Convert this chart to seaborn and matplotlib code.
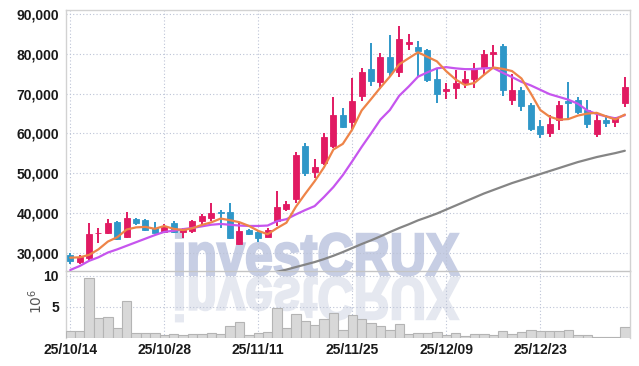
import numpy as np
import pandas as pd
import matplotlib
matplotlib.use("Agg")
import matplotlib.pyplot as plt
import seaborn as sns
from matplotlib.textpath import TextPath
from matplotlib.patches import PathPatch
from matplotlib.font_manager import FontProperties
from matplotlib.transforms import Affine2D, IdentityTransform
from matplotlib.ticker import FuncFormatter

# ---------------- data ----------------
dates = [d for d in pd.bdate_range("2025-10-14", "2026-01-08")
         if d.strftime("%Y-%m-%d") not in ("2025-12-25", "2025-12-31", "2026-01-01")]
date_labels = [d.strftime("%y/%m/%d") for d in dates]
tick_labels = ["25/10/14", "25/10/28", "25/11/11", "25/11/25", "25/12/09", "25/12/23"]

opens = [29300, 27500, 28600, 34800, 34900, 37800, 33900, 38400, 38200, 36300,
         35100, 37500, 35200, 35500, 37900, 38600, 40200, 40100, 32100, 35800,
         35100, 34000, 38000, 41000, 43500, 56800, 50400, 52600, 56900, 64600,
         63000, 69500, 76200, 73000, 79200, 75500, 82600, 81800, 81000, 73700,
         70700, 71500, 72800, 73600, 76800, 79900, 82000, 68400, 70900, 67200,
         61900, 60000, 63400, 68200, 68400, 66000, 59900, 63400, 62900, 67600]
closes = [27800, 28900, 34700, 35000, 37400, 33300, 38600, 37400, 35600, 35000,
          36800, 35100, 35800, 37900, 39200, 40000, 39900, 33700, 35400, 34600,
          33700, 35700, 41400, 42200, 54600, 50100, 51500, 59000, 64600, 61700,
          68200, 75400, 73300, 79200, 75500, 83700, 83000, 80800, 73500, 69900,
          71200, 72600, 73700, 76200, 80000, 80600, 70900, 70900, 66900, 61100,
          59800, 62400, 67200, 67600, 65500, 62300, 63400, 62700, 63800, 71600]
highs = [29900, 29400, 37400, 36200, 38400, 37900, 40100, 38600, 38400, 37600,
         37300, 37900, 36300, 38300, 39700, 42400, 40700, 42400, 37800, 36000,
         35600, 36200, 45600, 43100, 55400, 57600, 53500, 60200, 69200, 66500,
         73900, 76400, 82700, 80200, 84800, 87000, 85000, 83300, 81300, 76400,
         72600, 76000, 75800, 77700, 81000, 82300, 82500, 75100, 71800, 67600,
         63400, 64600, 68200, 73000, 69100, 68400, 64600, 64600, 64200, 74100]
lows = [27200, 27200, 28100, 32300, 34600, 33100, 33600, 36900, 35400, 34800,
        34900, 34800, 33600, 34900, 37000, 37900, 36100, 33400, 31900, 34400,
        32700, 33800, 36700, 40400, 42500, 49300, 48700, 52000, 56300, 61400,
        61100, 68200, 71900, 71100, 74300, 74100, 81000, 74300, 73000, 67600,
        68800, 68800, 71400, 71400, 75100, 76800, 69500, 67200, 65700, 60700,
        58800, 59000, 60900, 63400, 64900, 61300, 59200, 61500, 61600, 66600]
volume_m = [1.06, 1.06, 9.6, 3.1, 3.3, 1.5, 5.9, 0.68, 0.68, 0.68,
            0.35, 0.52, 0.35, 0.52, 0.52, 0.73, 0.57, 1.8, 2.5, 0.35,
            0.73, 0.9, 4.85, 1.5, 3.8, 2.6, 2.1, 3.0, 3.9, 1.2,
            3.65, 2.95, 2.3, 1.85, 1.2, 2.15, 0.57, 0.68, 0.68, 0.9,
            0.4, 0.68, 0.24, 0.52, 0.52, 0.45, 1.0, 0.52, 0.84, 1.17,
            1.0, 1.0, 1.0, 1.17, 0.4, 0.35, 0.13, 0.13, 0.13, 1.65]
ma5 = [28700, 28800, 29400, 30800, 32760, 33860, 35800, 36340, 36460, 35980,
       36680, 35980, 35660, 36120, 36960, 37600, 38560, 38140, 37640, 36720,
       35460, 34620, 36160, 37520, 41520, 44800, 47960, 51480, 55960, 57380,
       61000, 65780, 68640, 71560, 74320, 77420, 78940, 80440, 79300, 78180,
       75680, 73600, 72180, 72720, 74740, 76620, 76280, 75720, 73860, 70080,
       65920, 64220, 63480, 63620, 64500, 65000, 65200, 64300, 63540, 64760]
ma20 = [25600, 26600, 27900, 28800, 30000, 30800, 31700, 32600, 33500, 34400,
        35200, 35500, 35900, 36200, 36600, 37000, 37200, 37000, 36800, 36700,
        36700, 36800, 37900, 38400, 39600, 40700, 41700, 44000, 46500, 49500,
        53000, 56600, 60000, 63500, 65900, 69500, 71800, 74300, 75400, 76400,
        76700, 76400, 76200, 76200, 76400, 76500, 75300, 74200, 73000, 72100,
        71000, 69900, 69200, 68500, 67500, 65800, 64900, 64300, 63800, 64600]
ma_long = [np.nan] * 21 + [
    24600, 25150, 25700, 26340, 26970, 27600, 28350, 29190, 30120, 31130,
    32140, 33070, 34080, 35160, 36170, 37100, 38110, 38940, 39820, 40830,
    41840, 42850, 43850, 44860, 45740, 46620, 47500, 48260, 49010, 49770,
    50530, 51280, 52040, 52790, 53420, 54050, 54560, 55060, 55640]

# ---------------- styling ----------------
UP = "#e11a62"
DOWN = "#2f97c8"
GRID = "#bcc3d6"
SPINE = "#d2d2d2"

sns.set_theme(style="white")
plt.rcParams["font.family"] = ["Liberation Sans", "DejaVu Sans"]

df = pd.DataFrame({"idx": np.arange(len(dates)), "date": date_labels,
                   "open": opens, "close": closes, "high": highs, "low": lows,
                   "vol": volume_m, "ma5": ma5, "ma20": ma20, "malong": ma_long})

W, H = 639, 366
fig = plt.figure(figsize=(W / 100, H / 100), dpi=100)
fig.patch.set_facecolor("white")

ax = fig.add_axes([66 / W, (H - 271) / H, 564 / W, 261 / H])
ax2 = fig.add_axes([66 / W, (H - 337.5) / H, 564 / W, 66.5 / H], sharex=ax)
for a in (ax, ax2):
    a.set_facecolor("none")

# candles
up = df["close"] >= df["open"]
colors = np.where(up, UP, DOWN)
body_lo = np.minimum(df["open"], df["close"])
body_h = np.maximum(np.abs(df["close"] - df["open"]), 200)
ax.vlines(df["idx"], df["low"], df["high"], colors=colors, lw=1.4, zorder=3)
ax.bar(df["idx"], body_h, bottom=body_lo, width=0.64, color=colors,
       edgecolor=colors, linewidth=0.6, zorder=4)

# moving averages
sns.lineplot(data=df, x="idx", y="malong", ax=ax, color="#858585", lw=1.6, zorder=5)
sns.lineplot(data=df, x="idx", y="ma20", ax=ax, color="#c655ee", lw=1.6, zorder=6)
sns.lineplot(data=df, x="idx", y="ma5", ax=ax, color="#ee8448", lw=1.6, zorder=7)

# volume
ax2.bar(df["idx"], df["vol"], width=1.0, color="#d8d8d8", edgecolor="#b4b4b4",
        linewidth=0.8, zorder=3)

# axes limits / ticks
tick_pos = [date_labels.index(t) for t in tick_labels]
ax.set_xlim(-0.45, 59.55)
ax.set_ylim(25350, 91100)
ax.set_yticks(range(30000, 90001, 10000))
ax.yaxis.set_major_formatter(FuncFormatter(lambda v, p: f"{int(v):,}"))
ax2.set_ylim(0, 10.8)
ax2.set_yticks([5, 10])
ax2.set_xticks(tick_pos)
ax2.set_xticklabels(tick_labels)
ax.tick_params(axis="x", labelbottom=False, length=0)

for a in (ax, ax2):
    a.set_xlabel("")
    a.set_ylabel("")
    a.grid(True, color=GRID, linestyle=(0, (1, 2)), linewidth=0.8)
    a.set_axisbelow(True)
    a.tick_params(axis="y", length=0, pad=5, labelsize=10, colors="#1a1a1a")
    for s in a.spines.values():
        s.set_color(SPINE)
        s.set_linewidth(1.0)
ax2.tick_params(axis="x", length=0, pad=4, labelsize=10, colors="#1a1a1a")
for lab in ax.get_yticklabels() + ax2.get_yticklabels() + ax2.get_xticklabels():
    lab.set_fontweight("bold")
ax.spines["bottom"].set_color("#c4c4c4")
ax2.spines["top"].set_visible(False)
ax2.spines["bottom"].set_visible(False)

ax2.set_ylabel("10$^6$", fontsize=10, color="#555555", rotation=90,
               fontfamily="DejaVu Sans")
ax2.yaxis.set_label_coords(-0.037, 0.55)

# watermark "investCRUX" with reflection
fp = FontProperties(family="Liberation Sans", weight="bold")
tp = TextPath((0, 0), "investCRUX", size=100, prop=fp)
ext = tp.get_extents()
sx = 283 / ext.width
sy = 43 / 72.0
base_y = H - 275
x0 = 176
t_up = Affine2D().translate(-ext.x0, 0).scale(sx, sy).translate(x0, base_y)
t_dn = Affine2D().translate(-ext.x0, 0).scale(sx, -sy).translate(x0, base_y - 3)
p1 = PathPatch(t_up.transform_path(tp), facecolor="#c7cee4", edgecolor="#c7cee4",
               linewidth=1.6, transform=IdentityTransform(), zorder=-1)
p2 = PathPatch(t_dn.transform_path(tp), facecolor="#e5e8f0", edgecolor="#e5e8f0",
               linewidth=1.6, transform=IdentityTransform(), zorder=-1)
fig.add_artist(p1)
fig.add_artist(p2)

fig.savefig("out.png", dpi=100, facecolor="white")
